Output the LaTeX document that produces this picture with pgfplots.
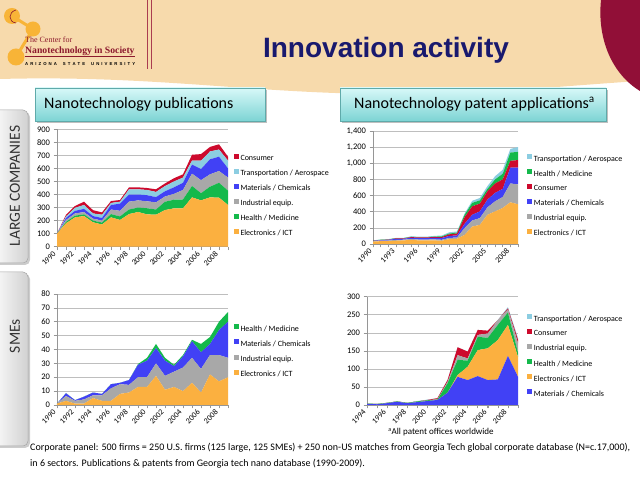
\documentclass[border=0pt]{standalone}
\usepackage{fontspec}
\setmainfont{Carlito}
\newfontfamily\arialfont{Liberation Sans}
\newfontfamily\timesfont{Liberation Serif}
\usepackage{pgfplots}
\usepackage{pgfplotstable}
\pgfplotsset{compat=1.18}

\definecolor{cE}{RGB}{251,176,64}
\definecolor{cH}{RGB}{20,185,75}
\definecolor{cI}{RGB}{168,168,168}
\definecolor{cM}{RGB}{65,65,245}
\definecolor{cT}{RGB}{140,205,225}
\definecolor{cC}{RGB}{205,10,45}
\definecolor{beige}{RGB}{247,218,172}
\definecolor{blob}{RGB}{145,15,55}
\definecolor{maroonline}{RGB}{170,60,80}
\definecolor{logotext}{RGB}{140,25,45}
\definecolor{navy}{RGB}{25,25,110}
\definecolor{gridc}{RGB}{190,190,190}
\definecolor{axc}{RGB}{150,150,150}
\definecolor{logoor}{RGB}{248,180,55}
\definecolor{boxtop}{RGB}{215,248,248}
\definecolor{boxbot}{RGB}{125,212,212}
\definecolor{boxedge}{RGB}{95,170,170}

% Large companies: publications (stack increments)
\pgfplotstableread{
year E H I M T C
1990 100 0 0 0 0 0
1991 180 10 15 15 12 13
1992 225 13 17 20 23 14
1993 235 13 17 25 30 25
1994 187 13 15 20 20 25
1995 170 15 15 20 25 18
1996 225 25 35 35 15 15
1997 205 27 43 55 15 13
1998 250 35 60 55 40 15
1999 266 34 55 45 40 15
2000 248 47 53 47 40 15
2001 245 40 55 40 40 20
2002 281 64 40 40 40 20
2003 294 66 45 50 45 25
2004 294 68 73 55 40 25
2005 378 87 95 70 30 45
2006 355 55 100 85 65 50
2007 378 82 95 115 60 35
2008 376 114 90 110 55 40
2009 320 110 100 70 60 30
}\pubL

% Large companies: patents
\pgfplotstableread{
year E I M C H T
1990 30 5 3 2 3 2
1991 35 8 5 2 3 2
1992 35 8 8 3 3 3
1993 40 10 15 5 3 2
1994 45 8 12 5 3 2
1995 50 12 15 8 5 5
1996 45 10 18 8 4 5
1997 45 10 18 8 4 5
1998 45 12 20 10 5 8
1999 40 12 22 12 8 11
2000 60 15 25 20 10 15
2001 65 15 25 25 10 15
2002 112 84 54 83 29 15
2003 216 76 70 105 43 25
2004 237 83 84 96 40 30
2005 362 92 96 104 29 35
2006 404 125 104 117 50 40
2007 446 137 100 117 70 50
2008 517 233 196 84 103 45
2009 492 246 208 94 101 60
}\patL

% SMEs: publications
\pgfplotstableread{
year E I M H
1990 1 0 0 0
1991 3 3.5 2 0
1992 1 2 0.5 0
1993 1 3 2 0
1994 5 2 2 0
1995 3 4 1 0
1996 3 9 3 0
1997 8 7 1 0
1998 9 5.5 3.5 0
1999 13 7 9 0.5
2000 13 7 12 2
2001 21 9 11 3
2002 11 10 11 2
2003 13 11 4 1
2004 10 17 8 1
2005 16 18 12 1
2006 9 17 12 6
2007 22 14 8 5
2008 17 19 18 6
2009 20 14 26 7
}\pubS

% SMEs: patents
\pgfplotstableread{
year M E H I C T
1994 3 0 1 0 0 0
1995 2 0 1 0 0 0
1996 5 0 1 0 0 0
1997 9 0 1 0 0 0
1998 5 0 1 0 0 0
1999 8 0 2 0 0 1
2000 11 0 2 0 1 1
2001 14 0 1 1 3 0
2002 34 0 26 4 5 1
2003 78 5 42 13 22 0
2004 69 37 17 6 19 0
2005 80 72 37 5 14 0
2006 69 88 29 12 8 0
2007 71 109 42 13 0 1
2008 136 86 34 9 3 3
2009 78 55 12 26 10 5
}\patS

\pgfplotsset{
  legend image code/.code={\fill[#1] (0pt,0pt) rectangle (5pt,5pt);},
  slide/.style={
    scale only axis,
    axis lines*=left,
    axis line style={axc, line width=0.7pt},
    ymin=0, enlargelimits=false,
    ymajorgrids, grid style={gridc, line width=0.6pt},
    tick align=outside,
    major tick length=3.5pt, minor tick length=3.5pt,
    tick style={axc, line width=0.6pt},
    stack plots=y,
    /pgf/number format/assume math mode=true,
    tick label style={font=\fontsize{8.5}{9}\selectfont, text=black},
    xticklabel style={rotate=45, anchor=east, font=\fontsize{8}{9}\selectfont, /pgf/number format/1000 sep={}},
    yticklabel style={/pgf/number format/1000 sep={,}},
    legend style={draw=none, fill=none, anchor=west, font=\fontsize{8}{9}\selectfont,
      inner sep=0pt, nodes={inner sep=0pt}, row sep=6.5pt, column sep=2pt},
    legend cell align=left,
    reverse legend,
  },
}

\begin{document}
\begin{tikzpicture}[x=1pt,y=1pt]
\useasboundingbox (0,0) rectangle (640,479);
% ---------- header ----------
\fill[beige] (0,479) -- (640,479) -- (640,398) .. controls (560,393) and (480,384) .. (380,385)
  .. controls (250,386) and (150,404) .. (0,400) -- cycle;
\fill[blob] (601,479) .. controls (597,440) and (612,405) .. (640,388) -- (640,479) -- cycle;
\draw[maroonline, line width=0.7pt] (147,479) -- (147,410);
\draw[maroonline, line width=0.7pt] (151,479) -- (151,410);
% logo
\draw[logoor, line width=3pt] (12,463) -- (33,450) -- (16,422);
\fill[logoor] (12,463) circle (8);
\fill[logoor] (33,450) circle (7.5);
\fill[logoor] (16,422) circle (8.5);
\draw[logotext, line width=0.6pt] (16,469) .. controls (8,467) and (8,457) .. (16,456);
\node[anchor=base west, inner sep=0pt, text=logotext] at (25,436)
  {\timesfont\fontsize{8}{9}\selectfont The Center for};
\node[anchor=base west, inner sep=0pt, text=logotext] at (25,425)
  {\timesfont\bfseries\fontsize{9.7}{11}\selectfont Nanotechnology in Society};
\draw[logotext, line width=0.6pt] (25,422.5) -- (135,422.5);
\node[anchor=base west, inner sep=0pt] at (25,413)
  {\arialfont\bfseries\fontsize{4.3}{5}\selectfont\makebox[110pt][s]{A\hfill R\hfill I\hfill Z\hfill O\hfill N\hfill A\hfill\hfill\hfill S\hfill T\hfill A\hfill T\hfill E\hfill\hfill\hfill U\hfill N\hfill I\hfill V\hfill E\hfill R\hfill S\hfill I\hfill T\hfill Y}};
% title
\node[anchor=base, inner sep=0pt, text=navy] at (386,421)
  {\arialfont\bfseries\fontsize{28}{30}\selectfont Innovation activity};
% ---------- subtitle boxes ----------
\fill[black, opacity=0.25] (37,356) rectangle (267,389);
\shade[top color=boxtop, bottom color=boxbot, draw=boxedge, line width=0.6pt] (35,358) rectangle (265,391);
\node[anchor=west, inner sep=0pt] at (44,374.5) {\fontsize{16}{18}\selectfont Nanotechnology publications};
\fill[black, opacity=0.25] (342,356) rectangle (608,389);
\shade[top color=boxtop, bottom color=boxbot, draw=boxedge, line width=0.6pt] (340,358) rectangle (606,391);
\node[anchor=west, inner sep=0pt] at (354,374.5) {\fontsize{16}{18}\selectfont Nanotechnology patent applications\textsuperscript{a}};
% ---------- side boxes ----------
\fill[black, opacity=0.2, rounded corners=5pt] (-10,214) rectangle (30,367);
\shade[left color=white, right color=black!18, draw=black!35, line width=0.5pt, rounded corners=5pt] (-10,216) rectangle (28,369);
\node[rotate=90, text=black!80] at (15,293) {\fontsize{15.5}{17}\selectfont LARGE COMPANIES};
\fill[black, opacity=0.2, rounded corners=5pt] (-10,31) rectangle (30,205);
\shade[left color=white, right color=black!18, draw=black!35, line width=0.5pt, rounded corners=5pt] (-10,33) rectangle (28,207);
\node[rotate=90, text=black!80] at (15,143) {\fontsize{15.5}{17}\selectfont SMEs};

% ---------- chart 1: large, publications ----------
\begin{axis}[slide, at={(57pt,232.3pt)}, anchor=south west, width=171pt, height=117.4pt,
  xmin=1990, xmax=2009, ymax=900, ytick={0,100,...,900},
  xtick={1990,1992,...,2008}, minor xtick={1990,...,2009},
  legend style={at={(1.031,0.436)}}]
\addplot[fill=cE, draw=none] table[x=year, y=E]{\pubL} \closedcycle;
\addplot[fill=cH, draw=none] table[x=year, y=H]{\pubL} \closedcycle;
\addplot[fill=cI, draw=none] table[x=year, y=I]{\pubL} \closedcycle;
\addplot[fill=cM, draw=none] table[x=year, y=M]{\pubL} \closedcycle;
\addplot[fill=cT, draw=none] table[x=year, y=T]{\pubL} \closedcycle;
\addplot[fill=cC, draw=none] table[x=year, y=C]{\pubL} \closedcycle;
\legend{Electronics / ICT, Health / Medicine, Industrial equip., Materials / Chemicals, Transportation / Aerospace, Consumer}
\end{axis}

% ---------- chart 2: large, patents ----------
\begin{axis}[slide, at={(373pt,235pt)}, anchor=south west, width=145pt, height=113pt,
  xmin=1990, xmax=2009, ymax=1400, ytick={0,200,...,1400},
  xtick={1990,1993,...,2008}, minor xtick={1990,...,2009},
  legend style={at={(1.06,0.427)}}]
\addplot[fill=cE, draw=none] table[x=year, y=E]{\patL} \closedcycle;
\addplot[fill=cI, draw=none] table[x=year, y=I]{\patL} \closedcycle;
\addplot[fill=cM, draw=none] table[x=year, y=M]{\patL} \closedcycle;
\addplot[fill=cC, draw=none] table[x=year, y=C]{\patL} \closedcycle;
\addplot[fill=cH, draw=none] table[x=year, y=H]{\patL} \closedcycle;
\addplot[fill=cT, draw=none] table[x=year, y=T]{\patL} \closedcycle;
\legend{Electronics / ICT, Industrial equip., Materials / Chemicals, Consumer, Health / Medicine, Transportation / Aerospace}
\end{axis}

% ---------- chart 3: SMEs, publications ----------
\begin{axis}[slide, at={(57pt,74pt)}, anchor=south west, width=171pt, height=111pt,
  xmin=1990, xmax=2009, ymax=80, ytick={0,10,...,80},
  xtick={1990,1992,...,2008}, minor xtick={1990,...,2009},
  legend style={at={(1.031,0.484)}}]
\addplot[fill=cE, draw=none] table[x=year, y=E]{\pubS} \closedcycle;
\addplot[fill=cI, draw=none] table[x=year, y=I]{\pubS} \closedcycle;
\addplot[fill=cM, draw=none] table[x=year, y=M]{\pubS} \closedcycle;
\addplot[fill=cH, draw=none] table[x=year, y=H]{\pubS} \closedcycle;
\legend{Electronics / ICT, Industrial equip., Materials / Chemicals, Health / Medicine}
\end{axis}

% ---------- chart 4: SMEs, patents ----------
\begin{axis}[slide, at={(367pt,74pt)}, anchor=south west, width=151pt, height=108.3pt,
  xmin=1994, xmax=2009, ymax=300, ytick={0,50,...,300},
  xtick={1994,1996,...,2008}, minor xtick={1994,...,2009},
  legend style={at={(1.058,0.454)}}]
\addplot[fill=cM, draw=none] table[x=year, y=M]{\patS} \closedcycle;
\addplot[fill=cE, draw=none] table[x=year, y=E]{\patS} \closedcycle;
\addplot[fill=cH, draw=none] table[x=year, y=H]{\patS} \closedcycle;
\addplot[fill=cI, draw=none] table[x=year, y=I]{\patS} \closedcycle;
\addplot[fill=cC, draw=none] table[x=year, y=C]{\patS} \closedcycle;
\addplot[fill=cT, draw=none] table[x=year, y=T]{\patS} \closedcycle;
\legend{Materials / Chemicals, Electronics / ICT, Health / Medicine, Industrial equip., Consumer, Transportation / Aerospace}
\end{axis}

% ---------- footnotes ----------
\node[anchor=base, inner sep=0pt] at (441,44)
  {\fontsize{9}{10}\selectfont\textsuperscript{a}All patent offices worldwide};
\node[anchor=base west, inner sep=0pt] at (30,28.5)
  {\fontsize{10}{12}\selectfont Corporate panel: 500 firms = 250 U.S. firms (125 large, 125 SMEs) + 250 non-US matches from Georgia Tech global corporate database (N=c.17,000),};
\node[anchor=base west, inner sep=0pt] at (30,12.5)
  {\fontsize{10}{12}\selectfont in 6 sectors. Publications \& patents from Georgia tech nano database (1990-2009).};
\end{tikzpicture}
\end{document}
